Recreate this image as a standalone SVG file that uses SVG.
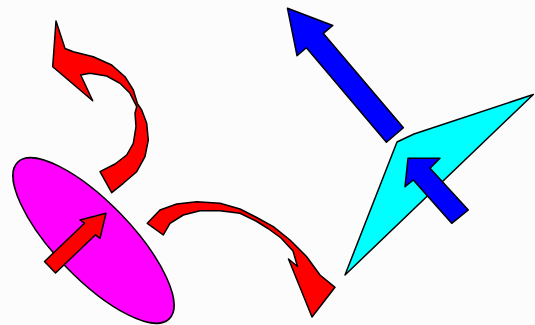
<svg xmlns="http://www.w3.org/2000/svg" width="535" height="325" viewBox="0 0 535 325">
<style>
.s{stroke:#000;stroke-width:1.5;stroke-linejoin:round}
.red{fill:#ff0000}
.mag{fill:#ff00ff}
.blue{fill:#0000ff}
.cyan{fill:#00ffff}
</style>
<rect width="535" height="325" fill="#fcfcfc"/>
<g id="ellipse">
<ellipse class="s mag" cx="93.5" cy="240.5" rx="109" ry="38" transform="rotate(46 93.5 240.5)"/>
</g>
<g id="ellipse-arrow">
<polygon class="s red" points="44.5,261.5 84.5,223.2 80,220 106,213.3 100,238.3 95.5,234.8 55.5,273"/>
</g>
<g id="quad">
<polygon class="s cyan" points="533.3,94.5 414,134 397,142 345,275"/>
</g>
<g id="quad-arrow">
<polygon class="s blue" points="408,158.3 440,158.3 430,168.3 468.3,210 451.7,223.3 413.3,180 405,186.7"/>
</g>
<g id="big-blue-arrow">
<polygon class="s blue" points="287.5,8.3 332.8,25.5 323.4,33.4 403.4,127.8 386.4,142.2 306.4,47.8 297,55.7"/>
</g>
<g id="connectors">
<polygon class="s red" points="56,21 65,48.5 73.3,51.7 93.3,56.7 111.7,65 125,76.7 133.3,90 137.3,103.3 141.7,110 146.7,123.3 148.3,140 145,156.7 136.7,171.7 123.3,183.3 111.7,192.7 100,171.7 115,164 126.7,155 133.3,143.3 136,126.7 135,113.3 136.7,106.7 130,93.3 120,83.3 106.7,76 90,73.3 80.7,75 92.7,100.7 52.7,66.7"/>
<polygon class="s red" points="147.3,223.3 160,210 176.7,204 196.7,201.7 220,203.3 240,209 256.7,217.5 273.3,226.7 290,240 306.7,256.7 320,275 335,287.3 312,317 288.5,259 297.5,266.5 293,251 281,238 268,228.5 256,221 240,213.3 220,210.7 200,210.7 183.3,215 170,223.3 163.3,235"/>
</g>
</svg>
